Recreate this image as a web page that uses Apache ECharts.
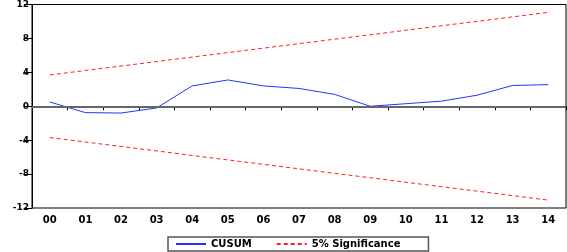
<!DOCTYPE html>
<html><head><meta charset="utf-8">
<script src="https://cdn.jsdelivr.net/npm/echarts@6/dist/echarts.min.js"></script>
<style>html,body{margin:0;padding:0;background:#fff}#c{width:567px;height:252px}</style>
</head><body><div id="c"></div>
<script>
var categories = ['00','01','02','03','04','05','06','07','08','09','10','11','12','13','14'];
var cusum = [0.5, -0.75, -0.8, -0.2, 2.4, 3.1, 2.4, 2.1, 1.4, 0.0, 0.3, 0.6, 1.3, 2.45, 2.55];
var upper = [3.69, 4.22, 4.74, 5.27, 5.80, 6.33, 6.85, 7.38, 7.91, 8.43, 8.96, 9.49, 10.01, 10.54, 11.07];
var lower = [-3.69, -4.22, -4.74, -5.27, -5.80, -6.33, -6.85, -7.38, -7.91, -8.43, -8.96, -9.49, -10.01, -10.54, -11.07];
var yTicks = [-12, -8, -4, 0, 4, 8, 12];

var font = 'DejaVu Sans, Liberation Sans, sans-serif';
var chart = echarts.init(document.getElementById('c'));
chart.setOption({
  animation: false,
  grid: {left: 32, right: 1, top: 3, bottom: 44, show: true, borderColor: '#000', borderWidth: 1},
  legend: {
    left: 168, top: 237,
    itemWidth: 30, itemHeight: 10, itemGap: 24,
    padding: [2, 28, 2, 7],
    borderColor: '#555', borderWidth: 1.5,
    itemStyle: {opacity: 0},
    textStyle: {fontFamily: font, fontWeight: 'bold', fontSize: 10, color: '#000'},
    data: ['CUSUM', '5% Significance']
  },
  xAxis: {
    type: 'category', data: categories, boundaryGap: true,
    axisLine: {show: true, lineStyle: {color: '#000'}},
    axisTick: {show: true, inside: false, length: 4, interval: 0, lineStyle: {color: '#000'}},
    axisLabel: {interval: 0, margin: 7, fontFamily: font, fontWeight: 'bold', fontSize: 10, color: '#000'},
    splitLine: {show: false}
  },
  yAxis: {
    type: 'value', min: -12, max: 12, interval: 4,
    axisLine: {show: true, lineStyle: {color: '#000'}},
    axisTick: {show: true, length: 8, lineStyle: {color: '#000'}},
    axisLabel: {margin: 3, fontFamily: font, fontWeight: 'bold', fontSize: 9, color: '#000',
      formatter: function(v){ return yTicks.indexOf(v) >= 0 ? String(v) : ''; }},
    splitLine: {show: false}
  },
  series: [
    {name: 'CUSUM', type: 'line', data: cusum, showSymbol: false, symbol: 'none',
     lineStyle: {color: '#2233ff', width: 1}, itemStyle: {color: '#2233ff'},
     markLine: {silent: true, symbol: 'none', label: {show: false},
       lineStyle: {color: '#666', width: 2, type: 'solid'}, data: [{yAxis: 0}]},
     z: 3},
    {name: '5% Significance', type: 'line', data: upper, showSymbol: false, symbol: 'none',
     lineStyle: {color: '#ff2020', width: 1, type: [4, 3]}, itemStyle: {color: '#ff2020'}},
    {name: '5% Significance', type: 'line', data: lower, showSymbol: false, symbol: 'none',
     lineStyle: {color: '#ff2020', width: 1, type: [4, 3]}, itemStyle: {color: '#ff2020'}}
  ]
});
</script></body></html>
